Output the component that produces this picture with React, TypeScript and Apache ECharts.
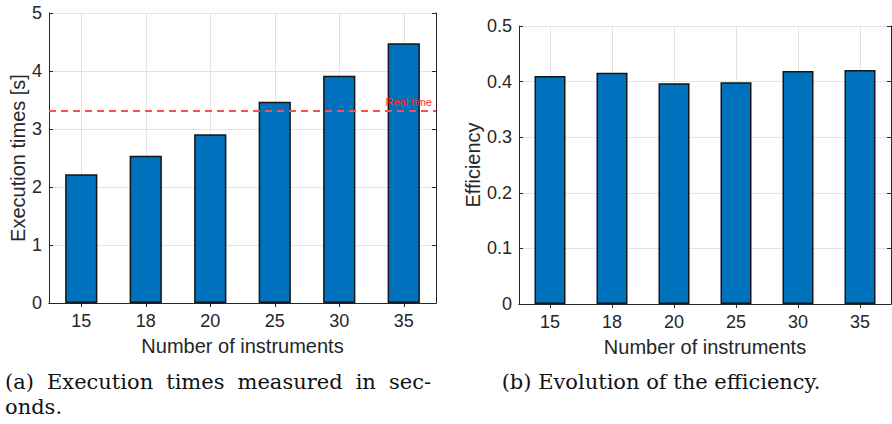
import React, { useEffect, useRef } from "react";
import * as echarts from "echarts";

const categories = ["15", "18", "20", "25", "30", "35"];
const execTimes = [2.22, 2.54, 2.91, 3.47, 3.92, 4.48];
const efficiency = [0.41, 0.416, 0.397, 0.399, 0.419, 0.421];
const realTime = 3.31;

const captionALine1 = ["(a)", "Execution", "times", "measured", "in", "sec-"];
const captionALine2 = "onds.";
const captionB = "(b) Evolution of the efficiency.";

const AXIS = "#262626";
const GRIDC = "#e3e3e3";
const BAR = "#0072BD";
const SANS = "'Liberation Sans', Arial, Helvetica, sans-serif";
const SERIF = "'DejaVu Serif', serif";
const CAP_SIZE = 21;

function catAxis(gridIndex: number, primary: boolean) {
  return {
    type: "category",
    gridIndex,
    data: categories,
    position: primary ? "bottom" : "top",
    boundaryGap: true,
    name: primary ? "Number of instruments" : "",
    nameLocation: "middle",
    nameGap: 33,
    nameTextStyle: { fontFamily: SANS, fontSize: 20, color: AXIS },
    axisLine: { show: true, lineStyle: { color: AXIS, width: 1 } },
    axisTick: { show: true, inside: true, alignWithLabel: true, length: 4, lineStyle: { color: AXIS } },
    axisLabel: { show: primary, fontFamily: SANS, fontSize: 18, color: AXIS, margin: 9 },
    splitLine: { show: primary, alignWithLabel: true, lineStyle: { color: GRIDC, width: 1 } },
  };
}

function valAxis(gridIndex: number, primary: boolean, max: number, interval: number, name: string, nameGap: number) {
  return {
    type: "value",
    gridIndex,
    position: primary ? "left" : "right",
    min: 0,
    max,
    interval,
    name: primary ? name : "",
    nameLocation: "middle",
    nameGap,
    nameTextStyle: { fontFamily: SANS, fontSize: 20, color: AXIS },
    axisLine: { show: true, lineStyle: { color: AXIS, width: 1 } },
    axisTick: { show: true, inside: true, length: 4, lineStyle: { color: AXIS } },
    axisLabel: { show: primary, fontFamily: SANS, fontSize: 18, color: AXIS, margin: 7 },
    splitLine: { show: primary, lineStyle: { color: GRIDC, width: 1 } },
  };
}

function justify(words: string[], left: number, right: number) {
  const ctx = document.createElement("canvas").getContext("2d");
  const widths = words.map((w) => {
    if (!ctx) return w.length * CAP_SIZE * 0.55;
    ctx.font = `${CAP_SIZE}px 'DejaVu Serif', serif`;
    return ctx.measureText(w).width;
  });
  const total = widths.reduce((a, b) => a + b, 0);
  const gap = (right - left - total) / (words.length - 1);
  const xs: number[] = [];
  let x = left;
  widths.forEach((w) => {
    xs.push(x);
    x += w + gap;
  });
  return xs;
}

export default function App() {
  const ref = useRef<HTMLDivElement>(null);
  useEffect(() => {
    if (!ref.current) return;
    const chart = echarts.init(ref.current, undefined, { renderer: "svg" });
    const capStyle = { fontFamily: SERIF, fontSize: CAP_SIZE, fill: "#111", verticalAlign: "middle" };
    const xs = justify(captionALine1, 5, 431);
    chart.setOption({
      animation: false,
      backgroundColor: "#ffffff",
      grid: [
        { left: 49, top: 13, right: 456, bottom: 121, containLabel: false },
        { left: 519, top: 26, right: 1, bottom: 120, containLabel: false },
      ],
      xAxis: [catAxis(0, true), catAxis(0, false), catAxis(1, true), catAxis(1, false)],
      yAxis: [
        valAxis(0, true, 5, 1, "Execution times [s]", 20),
        valAxis(0, false, 5, 1, "", 0),
        valAxis(1, true, 0.5, 0.1, "Efficiency", 36),
        valAxis(1, false, 0.5, 0.1, "", 0),
      ],
      series: [
        {
          type: "bar",
          xAxisIndex: 0,
          yAxisIndex: 0,
          data: execTimes,
          barWidth: "50%",
          itemStyle: { color: BAR, borderColor: "#151515", borderWidth: 1.5 },
          markLine: {
            silent: true,
            symbol: ["none", "none"],
            data: [{ yAxis: realTime }],
            lineStyle: { color: "#ff4d4d", width: 2, type: [7, 5] },
            label: {
              show: true,
              formatter: "Real time",
              position: "insideEndTop",
              color: "#ff2a2a",
              fontFamily: SANS,
              fontSize: 11,
              distance: 4,
            },
          },
        },
        {
          type: "bar",
          xAxisIndex: 2,
          yAxisIndex: 2,
          data: efficiency,
          barWidth: "50%",
          itemStyle: { color: BAR, borderColor: "#151515", borderWidth: 1.5 },
        },
      ],
      graphic: [
        ...captionALine1.map((w, i) => ({
          type: "text",
          x: xs[i],
          y: 382,
          style: { ...capStyle, text: w, align: "left" },
        })),
        { type: "text", x: 5, y: 407, style: { ...capStyle, text: captionALine2, align: "left" } },
        { type: "text", x: 661, y: 382, style: { ...capStyle, text: captionB, align: "center" } },
      ],
    });
    return () => chart.dispose();
  }, []);
  return <div ref={ref} style={{ width: 892, height: 424, position: "absolute", left: 0, top: 0 }} />;
}
